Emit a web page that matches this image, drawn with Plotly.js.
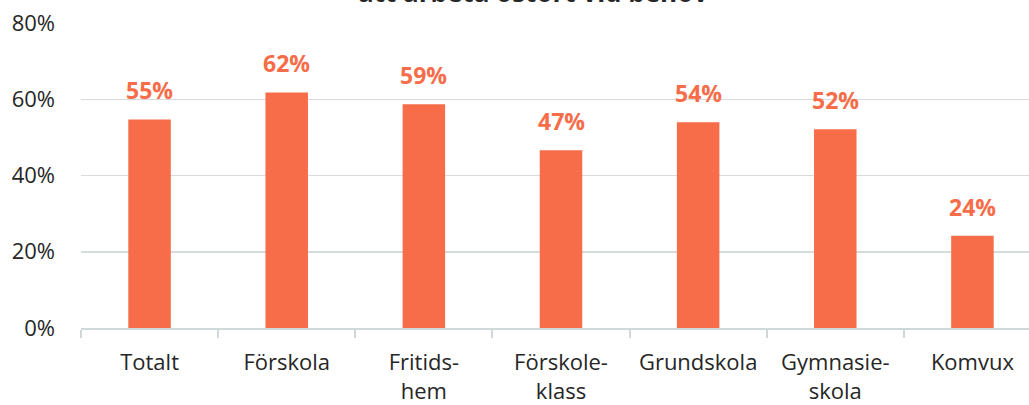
<!DOCTYPE html>
<html>
<head>
<meta charset="utf-8">
<script src="https://cdn.plot.ly/plotly-3.0.1.min.js"></script>
<style>
html,body{margin:0;padding:0;overflow:hidden;background:#fff;}
#chart{width:1050px;height:405px;}
</style>
</head>
<body>
<div id="chart"></div>
<script>
const categories = ["Totalt", "Förskola", "Fritids-<br>hem", "Förskole-<br>klass", "Grundskola", "Gymnasie-<br>skola", "Komvux"];
const values = [54.7, 61.8, 58.7, 46.6, 54.0, 52.1, 24.2];
const yTickVals = [0, 20, 40, 60, 80];
const yTickText = ["0%", "20%", "40%", "60%", "80%"];
const titleText = "att arbeta ostört vid behov";

const barColor = "#F76D4A";
const font = "Open Sans, Segoe UI, sans-serif";

const trace = {
  type: "bar",
  x: categories,
  y: values,
  marker: {color: barColor},
  hoverinfo: "skip",
  width: 0.31
};

const annotations = categories.map((c, i) => ({
  x: c, y: values[i], xref: "x", yref: "y",
  text: "<b>" + Math.round(values[i]) + "%</b>",
  showarrow: false, yanchor: "bottom", yshift: 11,
  font: {family: font, size: 23, color: barColor}
}));

annotations.push({
  text: "<b>" + titleText + "</b>",
  xref: "paper", x: (533 - 81) / 960, xanchor: "center",
  yref: "paper", y: 1, yanchor: "bottom", yshift: 11,
  showarrow: false,
  font: {family: font, size: 26, color: "#262626"}
});

const layout = {
  width: 1050, height: 405,
  margin: {l: 81, r: 9, t: 23, b: 77},
  paper_bgcolor: "#fff", plot_bgcolor: "#fff",
  showlegend: false,
  xaxis: {
    type: "category",
    showline: true, linecolor: "#CFD8D8", linewidth: 2,
    ticks: "outside", tickson: "boundaries", ticklen: 8, tickcolor: "#CFD8D8", tickwidth: 2,
    tickfont: {family: font, size: 22, color: "#262626"},
    ticklabelstandoff: 14,
    showgrid: false, fixedrange: true
  },
  yaxis: {
    range: [0, 80],
    tickvals: yTickVals, ticktext: yTickText,
    showgrid: true, gridcolor: "#D6DCDC", gridwidth: 1.5,
    zeroline: false, showline: false, ticks: "",
    ticklabelstandoff: 25,
    tickfont: {family: font, size: 22, color: "#262626"},
    fixedrange: true
  },
  annotations: annotations
};

Plotly.newPlot("chart", [trace], layout, {displayModeBar: false, staticPlot: true});
</script>
</body>
</html>
